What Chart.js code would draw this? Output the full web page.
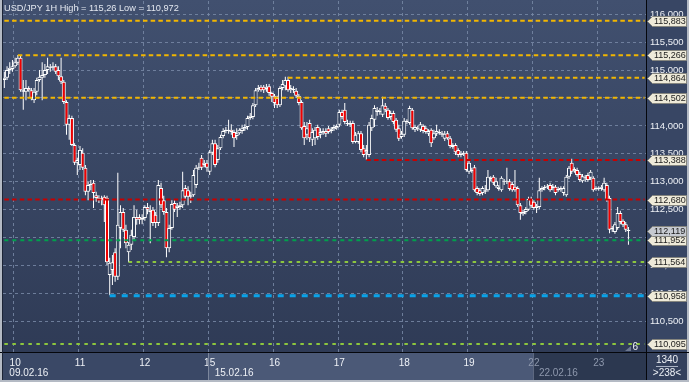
<!DOCTYPE html>
<html><head><meta charset="utf-8">
<script src="https://cdn.jsdelivr.net/npm/chart.js@4.4.1/dist/chart.umd.min.js"></script>
<style>html,body{margin:0;padding:0;background:#b4bac4;overflow:hidden}canvas{display:block}</style>
</head><body>
<canvas id="c" width="689" height="382"></canvas>
<script>
const chartTitle = 'USD/JPY 1H High = 115,26 Low = 110,972';
const days = ['09','10','11','12','15','16','17','18','19','22','23'];
const weekLabels = {'09':'09.02.16','15':'15.02.16','22':'22.02.16'};
const slotCount = 238;
const barCountLabel = '1340';
const visibleLabel = '>238<';
const yMin = 109.952, yMax = 116.236;

const opens = [
114.82,114.86,115.00,115.02,115.07,115.13,115.22,114.64,114.61,114.68,
114.64,114.46,114.61,114.82,114.86,114.91,115.00,115.05,115.04,115.07,
115.00,114.89,114.79,114.43,114.02,114.14,113.66,113.34,113.30,113.52,
113.25,112.82,112.94,112.98,112.76,112.67,112.71,112.73,112.71,111.33,
111.42,111.74,111.30,112.17,112.46,112.14,111.74,111.87,112.01,112.37,
112.37,112.32,112.35,112.55,112.50,112.50,112.41,112.26,112.89,112.67,
112.46,111.81,112.17,112.62,112.53,112.55,112.58,112.89,112.85,112.73,
112.76,112.94,113.25,113.43,113.30,113.34,113.18,113.52,113.69,113.39,
113.60,113.82,113.91,113.91,113.93,113.89,113.82,113.87,113.91,113.94,
113.98,114.14,114.16,114.37,114.64,114.70,114.70,114.66,114.71,114.59,
114.54,114.50,114.37,114.68,114.71,114.82,114.64,114.64,114.63,114.54,
114.43,114.00,113.84,114.05,113.75,113.78,113.98,113.84,113.87,113.91,
113.96,113.91,113.94,113.96,114.02,114.25,114.29,114.05,114.02,114.05,
113.71,113.71,113.87,113.60,113.53,113.48,113.96,114.11,114.25,114.25,
114.20,114.36,114.29,114.16,114.23,114.11,113.96,113.80,113.84,114.07,
114.05,114.29,113.93,113.94,113.93,114.00,113.96,113.86,113.93,113.78,
113.86,113.87,113.87,113.77,113.87,113.78,113.62,113.66,113.57,113.48,
113.50,113.52,113.18,113.21,113.26,112.89,112.85,112.80,112.82,112.85,
113.05,113.09,112.92,112.87,112.85,113.00,113.00,113.01,112.96,112.91,
112.89,112.58,112.42,112.46,112.50,112.69,112.64,112.53,112.55,112.85,
112.89,112.91,112.94,112.89,112.91,112.85,112.85,112.80,112.76,113.09,
113.34,113.19,113.21,113.14,113.01,113.09,113.12,113.07,113.07,112.87,
112.89,112.87,112.85,112.94,112.71,112.15,112.10,112.17,112.44,112.30,
112.24,112.14];
const highs = [
114.97,115.07,115.14,115.18,115.22,115.27,115.25,114.82,114.82,114.71,
114.68,114.68,114.86,115.00,115.14,115.11,115.22,115.11,115.14,115.11,
115.07,115.22,114.82,114.46,114.20,114.18,113.69,113.43,113.64,113.60,
113.30,113.00,113.03,113.03,112.82,112.76,112.75,112.76,112.75,111.64,
111.69,111.81,113.16,112.58,112.53,112.23,111.92,112.14,112.58,112.50,
112.42,112.42,112.58,112.62,112.58,112.55,112.46,113.03,112.98,112.75,
112.53,112.23,112.67,112.67,112.62,112.64,113.18,112.94,112.92,112.82,
113.21,113.30,113.34,113.48,113.39,113.39,113.57,113.75,113.75,113.66,
113.84,113.96,113.98,114.11,114.03,113.93,113.96,113.96,114.02,114.03,
114.18,114.23,114.41,114.68,114.73,114.73,114.73,114.75,114.75,114.61,
114.57,114.54,114.71,114.82,114.88,114.88,114.73,114.71,114.68,114.57,
114.46,114.07,114.07,114.11,113.96,113.98,114.02,113.96,113.96,113.96,
114.00,113.98,114.02,114.03,114.29,114.29,114.41,114.11,114.09,114.09,
113.89,113.91,113.91,113.66,113.66,114.07,114.20,114.37,114.34,114.32,
114.52,114.41,114.32,114.27,114.27,114.14,114.02,113.91,114.14,114.12,
114.36,114.32,114.02,114.00,114.07,114.03,114.00,113.94,113.96,113.93,
114.02,113.94,113.91,113.91,113.91,113.82,113.69,113.69,113.60,113.55,
113.55,113.55,113.37,113.25,113.30,112.92,112.89,112.92,112.94,113.21,
113.10,113.12,113.07,112.94,113.10,113.05,113.25,113.05,113.00,113.21,
112.92,112.62,112.50,112.55,112.73,112.73,112.67,112.60,113.07,112.92,
112.94,112.96,112.98,112.96,112.94,112.91,112.92,112.92,113.12,113.28,
113.41,113.26,113.25,113.18,113.14,113.12,113.16,113.21,113.10,112.92,
112.92,112.94,113.07,112.98,112.75,112.21,112.28,112.55,112.48,112.33,
112.28,112.19];
const lows = [
114.68,114.82,114.93,114.97,115.04,115.09,114.61,114.29,114.46,114.61,
114.46,114.41,114.55,114.79,114.46,114.86,114.93,114.97,115.00,114.93,
114.82,114.75,114.39,113.84,113.75,113.64,113.30,113.12,113.21,113.21,
112.76,112.67,112.85,112.53,112.64,112.62,112.58,112.28,111.51,110.97,
111.15,111.21,111.24,111.81,112.10,111.81,111.56,111.78,111.96,112.23,
112.24,112.24,112.30,112.42,111.90,112.21,112.17,112.21,112.53,112.41,
111.65,111.74,112.14,112.46,112.37,112.50,112.53,112.67,112.58,112.62,
112.73,112.89,113.21,113.21,113.26,113.18,113.12,113.48,113.26,113.34,
113.57,113.78,113.87,113.86,113.84,113.62,113.75,113.84,113.86,113.91,
113.93,114.11,114.12,114.34,114.61,114.61,114.59,114.61,114.54,114.43,
114.32,114.32,114.34,114.64,114.64,114.61,114.59,114.59,114.50,114.37,
113.93,113.66,113.75,113.71,113.64,113.66,113.75,113.78,113.84,113.80,
113.86,113.87,113.91,113.93,113.98,114.12,114.03,114.00,113.98,113.68,
113.69,113.68,113.53,113.44,113.39,113.44,113.91,113.98,114.18,114.20,
114.16,114.25,114.11,114.11,114.03,113.89,113.73,113.77,113.80,114.03,
114.02,113.93,113.89,113.91,113.89,113.87,113.86,113.82,113.62,113.75,
113.82,113.84,113.80,113.73,113.75,113.60,113.59,113.48,113.44,113.44,
113.46,113.18,113.14,113.16,112.82,112.76,112.75,112.76,112.78,112.82,
113.01,112.94,112.89,112.84,112.82,112.94,112.96,112.84,112.82,112.82,
112.55,112.32,112.39,112.42,112.48,112.53,112.50,112.44,112.51,112.82,
112.85,112.87,112.82,112.85,112.76,112.82,112.82,112.75,112.73,113.05,
113.14,113.16,113.09,113.00,112.98,113.00,113.00,113.03,112.82,112.84,
112.84,112.84,112.82,112.64,112.08,112.10,112.07,112.14,112.24,112.19,
112.10,111.87];
const closes = [
114.86,115.00,115.04,115.07,115.14,115.22,114.64,114.61,114.68,114.64,
114.50,114.61,114.82,114.88,114.91,115.00,115.07,115.04,115.07,114.97,
114.89,114.79,114.43,114.02,114.14,113.66,113.34,113.39,113.57,113.25,
112.82,112.94,112.96,112.80,112.71,112.71,112.67,112.58,111.56,111.55,
111.56,111.30,112.23,112.46,112.14,111.90,111.87,112.05,112.37,112.32,
112.32,112.35,112.55,112.50,112.46,112.26,112.26,112.94,112.58,112.46,
111.81,112.17,112.60,112.50,112.57,112.58,112.85,112.73,112.73,112.76,
113.12,113.25,113.26,113.25,113.34,113.25,113.53,113.69,113.30,113.60,
113.80,113.91,113.93,113.93,113.89,113.78,113.87,113.93,113.96,113.98,
114.14,114.18,114.37,114.64,114.68,114.64,114.64,114.70,114.59,114.52,
114.41,114.37,114.68,114.75,114.82,114.64,114.68,114.66,114.54,114.41,
113.96,113.78,113.96,113.78,113.89,113.93,113.80,113.89,113.91,113.86,
113.89,113.94,113.98,114.00,114.25,114.16,114.07,114.03,114.05,113.71,
113.84,113.87,113.57,113.48,113.57,114.02,114.14,114.32,114.29,114.27,
114.37,114.29,114.14,114.23,114.07,113.93,113.77,113.86,114.09,114.09,
114.32,113.96,113.98,113.96,114.03,113.91,113.89,113.91,113.69,113.87,
113.91,113.89,113.84,113.86,113.78,113.64,113.66,113.53,113.48,113.52,
113.52,113.21,113.34,113.19,112.85,112.80,112.78,112.89,112.85,113.09,
113.07,112.98,113.01,112.91,113.07,113.01,113.01,112.87,112.85,112.85,
112.58,112.44,112.46,112.51,112.69,112.57,112.53,112.57,112.85,112.89,
112.91,112.92,112.85,112.92,112.80,112.87,112.89,112.89,113.09,113.25,
113.18,113.23,113.12,113.03,113.10,113.07,113.03,113.18,112.85,112.89,
112.87,112.91,112.98,112.67,112.14,112.17,112.24,112.44,112.28,112.23,
112.14,112.12];

const levelValues = [115.883, 115.266, 114.864, 114.502, 113.388, 112.680, 111.952, 111.564, 110.958, 110.095];
const levelStartSlot = [0, 5, 105, 0, 134, 0, 0, 46, 39, 0];
const levelKind = ['yellow','yellow','yellow','yellow','red','red','green','lime','blue','lime'];
const currentPrice = 112.119;

const FONT = '"Liberation Sans", Arial, sans-serif';
const GRID = 'rgba(120,136,166,0.85)';
const WHITE = '#eef1f6';
const GREY = '#8e98ad';
const levelStyle = {
  yellow: {color:'#f2b600', width:2, dash:[4.5,3.2]},
  red:    {color:'#c80000', width:2, dash:[4.5,3.2]},
  green:  {color:'#00a04c', width:2, dash:[4,4]},
  lime:   {color:'#8cc63e', width:2, dash:[3.5,4.5]},
  blue:   {color:'#0aa2e8', width:3, dash:[6,6]}
};
const fmt = v => v.toFixed(3).replace('.', ',');

// categories (hourly slots)
const labels = [];
for (let h = 20; h < 24; h++) labels.push(days[0] + ' ' + String(h).padStart(2,'0') + ':00');
for (const d of days.slice(1)) for (let h = 0; h < 24 && labels.length < slotCount; h++) labels.push(d + ' ' + String(h).padStart(2,'0') + ':00');
const dayOf = i => labels[i] ? labels[i].slice(0,2) : null;
const isDayStart = i => i > 0 && i < labels.length && dayOf(i) !== dayOf(i-1);
const isWeekStart = i => (i === 0 || isDayStart(i)) && weekLabels[dayOf(i)] !== undefined;
const weekStarts = labels.map((_, i) => i).filter(isWeekStart);
const lastWeekStart = weekStarts[weekStarts.length - 1];

const wicks = lows.map((l, i) => [l, highs[i]]);
const bodies = opens.map((o, i) => [o, closes[i]]);
const bodyFill = opens.map((o, i) => closes[i] < o ? '#f00000' : '#35435f');

const levelDatasets = levelValues.map((v, k) => {
  const s = levelStyle[levelKind[k]];
  return {type:'line', data: labels.map((_, i) => i >= levelStartSlot[k] ? v : null),
    borderColor: s.color, borderWidth: s.width, borderDash: s.dash, borderCapStyle:'butt',
    pointRadius: 0, fill: false, order: 0, tension: 0, xAxisID:'x', yAxisID:'y'};
});

const bgPlugin = {
  id: 'bg',
  beforeDraw(chart) {
    const {ctx, chartArea: a, width: W, height: H} = chart;
    const xs = chart.scales.x;
    ctx.save();
    ctx.fillStyle = '#b4bac4'; ctx.fillRect(0, 0, W, H);
    ctx.fillStyle = '#384664'; ctx.fillRect(a.right, 0, W - 2 - a.right, H - 2);
    const g = ctx.createLinearGradient(0, 0, 0, a.bottom);
    g.addColorStop(0, '#41506f'); g.addColorStop(1, '#2f3b56');
    ctx.fillStyle = g; ctx.fillRect(a.left, 0, a.right - a.left, a.bottom);
    const slot = (xs.right - xs.left) / labels.length;
    const cols = ['#3a4866', '#4b5977', '#2c3850'];
    weekStarts.forEach((s, k) => {
      const x0 = xs.left + s * slot;
      const x1 = k + 1 < weekStarts.length ? xs.left + weekStarts[k+1] * slot : a.right;
      ctx.fillStyle = cols[k % 3];
      ctx.fillRect(Math.round(x0), a.bottom, Math.round(x1) - Math.round(x0), H - 2 - a.bottom);
    });
    ctx.fillStyle = '#33405c'; ctx.fillRect(a.right, a.bottom, W - 2 - a.right, H - 2 - a.bottom);
    ctx.restore();
  }
};

function drawTag(ctx, y, text, fill) {
  y = Math.round(y) + 0.5;
  ctx.beginPath();
  ctx.moveTo(647.5, y); ctx.lineTo(652.5, y - 5); ctx.lineTo(686.5, y - 5);
  ctx.lineTo(686.5, y + 5); ctx.lineTo(652.5, y + 5); ctx.closePath();
  ctx.fillStyle = fill; ctx.fill();
  ctx.strokeStyle = '#85857e'; ctx.lineWidth = 1; ctx.stroke();
  ctx.fillStyle = '#1b1b1b'; ctx.fillText(text, 654, y + 0.5);
}

const overlayPlugin = {
  id: 'overlay',
  afterDraw(chart) {
    const {ctx, chartArea: a, width: W, height: H} = chart;
    const ys = chart.scales.y, xs = chart.scales.x;
    const slot = (xs.right - xs.left) / labels.length;
    ctx.save();
    weekStarts.slice(1).forEach((s, k) => {
      ctx.fillStyle = k === 0 ? '#7c879c' : '#5d6880';
      ctx.fillRect(Math.round(xs.left + s * slot), a.bottom, 1, H - 2 - a.bottom);
    });
    ctx.fillStyle = '#05070c';
    ctx.fillRect(Math.round(a.right), 0, 1, H - 2);
    ctx.fillRect(0, Math.round(a.bottom), W, 1);
    ctx.fillStyle = '#1c2436'; ctx.fillRect(2, 0, 1, H - 2);
    // title
    ctx.font = '9.2px ' + FONT; ctx.textBaseline = 'middle'; ctx.textAlign = 'left';
    ctx.fillStyle = '#e4e8f0';
    ctx.fillText(chartTitle, 4, 8.5);
    // level tags
    ctx.font = '9px ' + FONT;
    levelValues.forEach(v => drawTag(ctx, ys.getPixelForValue(v), fmt(v), '#eeead9'));
    drawTag(ctx, ys.getPixelForValue(currentPrice), fmt(currentPrice), '#c6cad1');
    // marker
    ctx.fillStyle = '#6d7890';
    ctx.beginPath(); ctx.moveTo(625, 351); ctx.lineTo(631, 351); ctx.lineTo(631, 346); ctx.closePath(); ctx.fill();
    ctx.font = '10px ' + FONT;
    ctx.fillStyle = WHITE; ctx.fillText('6', 632.5, 347.5);
    // corner box
    ctx.textAlign = 'center';
    ctx.fillText(barCountLabel, 667, 360.5);
    ctx.fillStyle = '#aab3c4'; ctx.fillRect(656, 366, 22, 1);
    ctx.fillStyle = WHITE; ctx.fillText(visibleLabel, 667, 373.5);
    ctx.restore();
  }
};

new Chart(document.getElementById('c'), {
  type: 'bar',
  data: {
    labels,
    datasets: [
      ...levelDatasets,
      {type:'bar', data: bodies, backgroundColor: bodyFill, borderColor:'#ffffff', borderWidth:1,
       borderSkipped:false, barThickness:4, grouped:false, order:1, minBarLength:1, inflateAmount:0, xAxisID:'x', yAxisID:'y'},
      {type:'bar', data: wicks, backgroundColor:'#ffffff', borderWidth:0, barThickness:1,
       grouped:false, order:2, inflateAmount:0, xAxisID:'x', yAxisID:'y'}
    ]
  },
  options: {
    responsive:false, animation:false, devicePixelRatio:1, events:[],
    layout: {padding:{left:3, top:1, right:2, bottom:2}},
    plugins: {legend:{display:false}, tooltip:{enabled:false}, title:{display:false}},
    scales: {
      x: {type:'category', position:'bottom', offset:true, weight:0,
        grid:{offset:true, drawTicks:false, lineWidth:1, color: c => isDayStart(c.index) ? GRID : 'rgba(0,0,0,0)'},
        border:{display:false, dash:[3,3]},
        ticks:{autoSkip:false, maxRotation:0, minRotation:0, padding:5, font:{family:FONT, size:10},
          color: c => c.index >= lastWeekStart ? GREY : WHITE,
          callback: (v, i) => isDayStart(i) ? String(Number(dayOf(i))) : ''},
        afterFit: s => { s.height = 14; s.paddingLeft = 0; s.paddingRight = 0; }
      },
      xw: {type:'category', position:'bottom', offset:true, weight:1,
        grid:{display:false, drawTicks:false}, border:{display:false},
        ticks:{autoSkip:false, maxRotation:0, minRotation:0, align:'start', labelOffset:5, padding:1,
          font:{family:FONT, size:10},
          color: c => c.index >= lastWeekStart ? GREY : WHITE,
          callback: (v, i) => isWeekStart(i) ? weekLabels[dayOf(i)] : ''},
        afterFit: s => { s.height = 14; s.paddingLeft = 0; s.paddingRight = 0; }
      },
      y: {position:'right', min:yMin, max:yMax,
        grid:{drawTicks:false, lineWidth:1, color: c => (c.tick && c.tick.value < 110.2) ? 'rgba(0,0,0,0)' : GRID},
        border:{display:false, dash:[3,3]},
        ticks:{stepSize:0.5, includeBounds:false, padding:4, color:WHITE, font:{family:FONT, size:9.5},
          callback: v => v < 110.2 ? '' : fmt(v)},
        afterFit: s => { s.width = 41; s.paddingTop = 0; s.paddingBottom = 0; }
      }
    }
  },
  plugins: [bgPlugin, overlayPlugin]
});
</script>
</body></html>
